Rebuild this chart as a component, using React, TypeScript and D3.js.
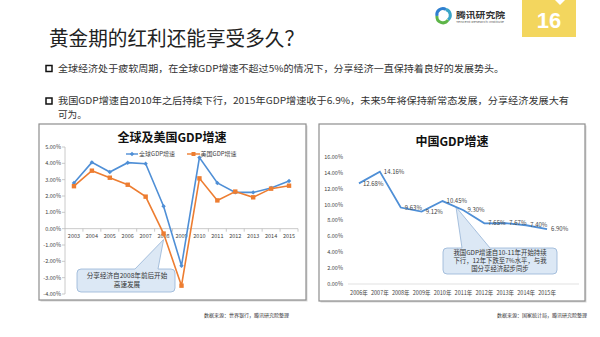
import React from 'react';
import * as d3 from 'd3';

const years = ['2003','2004','2005','2006','2007','2008','2009','2010','2011','2012','2013','2014','2015'];
const globalGdp = [2.8, 4.06, 3.47, 4.04, 3.98, 1.37, -2.27, 4.35, 2.8, 2.22, 2.22, 2.49, 2.92];
const usGdp = [2.6, 3.55, 3.12, 2.69, 1.96, -0.3, -3.49, 3.08, 1.73, 2.27, 1.92, 2.45, 2.63];
const leftTicks = [5, 4, 3, 2, 1, 0, -1, -2, -3, -4];

const chinaYears = ['2006年','2007年','2008年','2009年','2010年','2011年','2012年','2013年','2014年','2015年'];
const chinaGdp = [12.68, 14.16, 9.63, 9.12, 10.45, 9.30, 7.65, 7.67, 7.40, 6.90];
const rightTicks = [0, 2, 4, 6, 8, 10, 12, 14, 16];

const FONT = '"Noto Sans CJK SC", "Noto Sans", sans-serif';
const BLUE = '#4f8fd6';
const ORANGE = '#ed7d31';

export default function App() {
  const lx = d3.scaleBand<string>().domain(years).range([65, 298]);
  const ly = d3.scaleLinear().domain([-4, 5]).range([294, 147]);
  const lcx = (d: string) => (lx(d) as number) + lx.bandwidth() / 2;
  const lineL = d3.line<number>().x((_, i) => lcx(years[i])).y(v => ly(v));

  const rx = d3.scaleBand<string>().domain(chinaYears).range([348.5, 557.5]);
  const ry = d3.scaleLinear().domain([0, 16]).range([284, 157]);
  const rcx = (d: string) => (rx(d) as number) + rx.bandwidth() / 2;
  const lineR = d3.line<number>().x((_, i) => rcx(chinaYears[i])).y(v => ry(v));

  const callout = (x0: number, y0: number, x1: number, y1: number, b0: number, b1: number, ax: number, ay: number, r = 4) =>
    `M${x0 + r},${y0} L${b0},${y0} L${ax},${ay} L${b1},${y0} L${x1 - r},${y0} Q${x1},${y0} ${x1},${y0 + r} L${x1},${y1 - r} Q${x1},${y1} ${x1 - r},${y1} L${x0 + r},${y1} Q${x0},${y1} ${x0},${y1 - r} L${x0},${y0 + r} Q${x0},${y0} ${x0 + r},${y0} Z`;

  return (
    <svg width={600} height={337} style={{ position: 'absolute', left: 0, top: 0, background: '#fff' }} fontFamily={FONT}>
      <rect x={0} y={0} width={600} height={337} fill="#fff" />
      {/* header */}
      <text x={49} y={45.5} fontSize={20} fill="#222" textLength={255} lengthAdjust="spacingAndGlyphs">黄金期的红利还能享受多久？</text>
      {/* logo */}
      <g>
        <path d="M437,16 A6,6 0 0 1 446,9.5" fill="none" stroke="#2f7fd0" strokeWidth={3} />
        <path d="M446,9.5 A6,6 0 0 1 448,20" fill="none" stroke="#3aa5c8" strokeWidth={3} />
        <path d="M448,20 A6,6 0 0 1 437,16" fill="none" stroke="#5db548" strokeWidth={3} />
        <text x={456} y={18} fontSize={8.5} fontWeight="bold" fill="#333" textLength={49} lengthAdjust="spacingAndGlyphs">腾讯研究院</text>
        <text x={456} y={23} fontSize={2.5} fill="#666" textLength={48} lengthAdjust="spacingAndGlyphs">Tencent Research Institute</text>
      </g>
      <rect x={522} y={0} width={54} height={37} fill="#f3d65e" />
      <path d="M555,0 L565,0 L560,5 Z" fill="#fff" />
      <text x={549} y={28} fontSize={22} fontWeight="bold" fill="#fff" textAnchor="middle" fontFamily="Arial, 'Liberation Sans', sans-serif">16</text>

      {/* bullets */}
      <rect x={46} y={65.5} width={6} height={6} fill="none" stroke="#111" strokeWidth={1.5} />
      <text x={58} y={71.8} fontSize={9.6} fill="#333" textLength={446} lengthAdjust="spacingAndGlyphs">全球经济处于疲软周期，在全球GDP增速不超过5%的情况下，分享经济一直保持着良好的发展势头。</text>
      <rect x={46} y={98} width={6} height={6} fill="none" stroke="#111" strokeWidth={1.5} />
      <text x={58} y={104.3} fontSize={9.6} fill="#333" textLength={511} lengthAdjust="spacingAndGlyphs">我国GDP增速自2010年之后持续下行，2015年GDP增速收于6.9%，未来5年将保持新常态发展，分享经济发展大有</text>
      <text x={58} y={117.6} fontSize={9.6} fill="#333">可为。</text>

      {/* left frame */}
      <rect x={40.5} y={125.5} width={267} height={176} fill="#d8d8d8" />
      <rect x={39} y={124} width={267} height={176} fill="#fff" stroke="#8e8e8e" strokeWidth={1.2} />
      <text x={172} y={141.5} fontSize={12} fontWeight="bold" fill="#111" textAnchor="middle">全球及美国GDP增速</text>

      {/* left y axis */}
      <line x1={65} x2={65} y1={ly(5)} y2={ly(-4)} stroke="#bdbdbd" strokeWidth={0.8} />
      {leftTicks.map(t => (
        <g key={t}>
          <line x1={62} x2={65} y1={ly(t)} y2={ly(t)} stroke="#bdbdbd" strokeWidth={0.8} />
          <text x={61} y={ly(t) + 1.9} fontSize={5.5} fill="#444" textAnchor="end">{t.toFixed(2)}%</text>
        </g>
      ))}
      {/* left x axis at zero */}
      <line x1={65} x2={298} y1={ly(0)} y2={ly(0)} stroke="#bdbdbd" strokeWidth={0.8} />
      {years.map(y => (
        <g key={y}>
          <line x1={(lx(y) as number) + lx.bandwidth()} x2={(lx(y) as number) + lx.bandwidth()} y1={ly(0)} y2={ly(0) + 3} stroke="#bdbdbd" strokeWidth={0.8} />
          <text x={lcx(y)} y={ly(0) + 9.5} fontSize={5.5} fill="#444" textAnchor="middle">{y}</text>
        </g>
      ))}
      {/* left callout */}
      <path d={callout(77, 269, 175, 292, 135, 158, lcx('2008'), ly(-0.3) + 6)} fill="#dce8f5" stroke="#94b3d6" strokeWidth={0.8} />
      <text x={127} y={277.5} fontSize={6.6} fill="#333" textAnchor="middle">分享经济自2008年前后开始</text>
      <text x={127} y={286.5} fontSize={6.6} fill="#333" textAnchor="middle">高速发展</text>

      {/* lines */}
      <path d={lineL(globalGdp) as string} fill="none" stroke={BLUE} strokeWidth={1.6} />
      {globalGdp.map((v, i) => {
        const cx = lcx(years[i]); const cy = ly(v);
        return <path key={i} d={`M${cx},${cy - 2.2} L${cx + 2.2},${cy} L${cx},${cy + 2.2} L${cx - 2.2},${cy} Z`} fill={BLUE} />;
      })}
      <path d={lineL(usGdp) as string} fill="none" stroke={ORANGE} strokeWidth={1.6} />
      {usGdp.map((v, i) => (
        <rect key={i} x={lcx(years[i]) - 2.2} y={ly(v) - 2.2} width={4.4} height={4.4} fill={ORANGE} />
      ))}

      {/* legend */}
      <line x1={126} x2={138} y1={154} y2={154} stroke={BLUE} strokeWidth={1.4} />
      <path d="M132,151.8 L134.2,154 L132,156.2 L129.8,154 Z" fill={BLUE} />
      <text x={139} y={156} fontSize={6} fill="#444">全球GDP增速</text>
      <line x1={187} x2={200} y1={154} y2={154} stroke={ORANGE} strokeWidth={1.4} />
      <rect x={191.5} y={152} width={4} height={4} fill={ORANGE} />
      <text x={200.5} y={156} fontSize={6} fill="#444">美国GDP增速</text>

      <text x={289} y={316.5} fontSize={5} fill="#333" textAnchor="end">数据来源：世界银行，腾讯研究院整理</text>

      {/* right frame */}
      <rect x={320.5} y={125.5} width={266} height={177} fill="#d8d8d8" />
      <rect x={319} y={124} width={266} height={177} fill="#fff" stroke="#8e8e8e" strokeWidth={1.2} />
      <text x={452} y={145.5} fontSize={12} fontWeight="bold" fill="#111" textAnchor="middle">中国GDP增速</text>

      {rightTicks.map(t => (
        <text key={t} x={343} y={ry(t) + 1.9} fontSize={5.5} fill="#444" textAnchor="end">{t.toFixed(2)}%</text>
      ))}
      <line x1={348} x2={579} y1={ry(0)} y2={ry(0)} stroke="#d9d9d9" strokeWidth={0.8} />
      {chinaYears.map(y => (
        <text key={y} x={rcx(y)} y={ry(0) + 11} fontSize={5.5} fill="#444" textAnchor="middle">{y}</text>
      ))}

      <path d={callout(443, 248, 557, 274, 462, 490, 456, 207)} fill="#dce8f5" stroke="#94b3d6" strokeWidth={0.8} />
      <path d={lineR(chinaGdp) as string} fill="none" stroke={BLUE} strokeWidth={1.8} />
      {chinaGdp.map((v, i) => (
        <text key={i} x={rcx(chinaYears[i]) + 4} y={ry(v) + 2.2} fontSize={6} fill="#444">{v.toFixed(2)}%</text>
      ))}
      <text x={500} y={254.5} fontSize={6.4} fill="#333" textAnchor="middle">我国GDP增速自10-11年开始持续</text>
      <text x={500} y={262.8} fontSize={6.4} fill="#333" textAnchor="middle">下行，12年下跌至7%水平，与我</text>
      <text x={500} y={271.1} fontSize={6.4} fill="#333" textAnchor="middle">国分享经济起步同步</text>

      <text x={587} y={316.5} fontSize={5} fill="#333" textAnchor="end">数据来源：国家统计局，腾讯研究院整理</text>
    </svg>
  );
}
